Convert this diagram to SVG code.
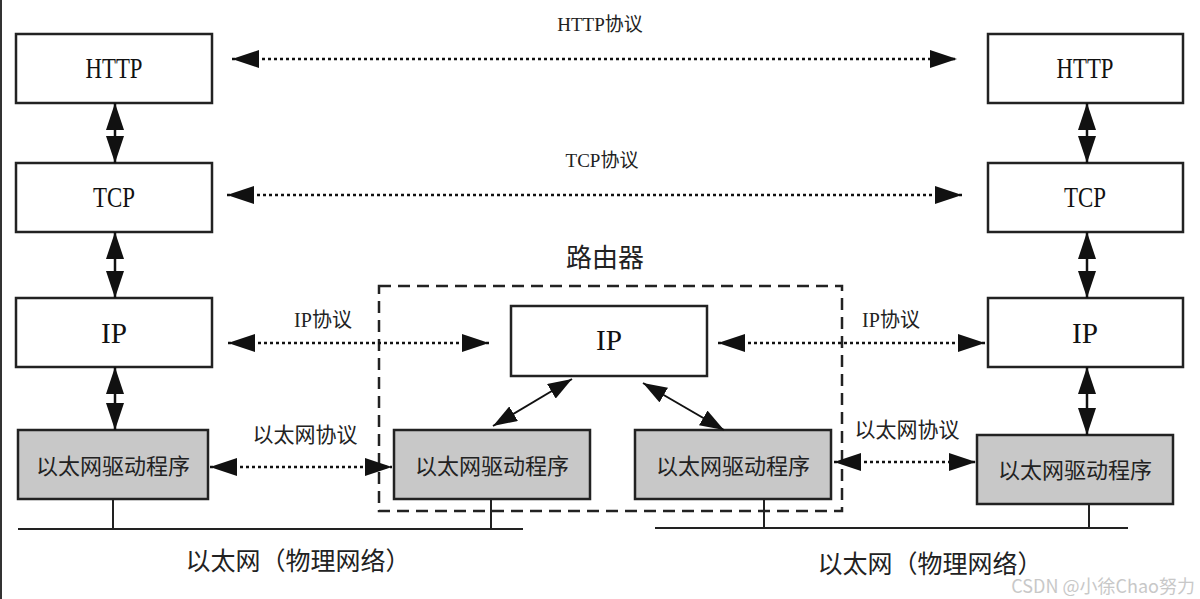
<svg xmlns="http://www.w3.org/2000/svg" width="1200" height="599" viewBox="0 0 1200 599">
<style>
.box{fill:#fff;stroke:#222;stroke-width:2.5}
.gbox{fill:#c8c8c8;stroke:#222;stroke-width:2.5}
.lat{font-family:"Liberation Serif","Noto Sans CJK SC",serif;font-size:30px;fill:#111;text-anchor:middle}
.cjk{font-family:"Noto Sans CJK SC",sans-serif;font-size:22px;fill:#222;text-anchor:middle}
.lbl{font-family:"Liberation Serif","Noto Sans CJK SC",serif;font-size:20px;fill:#222;text-anchor:middle}
.solid{stroke:#111;stroke-width:2.5;fill:none;marker-start:url(#ah);marker-end:url(#ah)}
.thin{stroke:#111;stroke-width:2;fill:none;marker-start:url(#as);marker-end:url(#as)}
.dot{stroke:#111;stroke-width:2.5;stroke-dasharray:3 3;fill:none;marker-start:url(#ah);marker-end:url(#ah)}
.wire{stroke:#222;stroke-width:2;fill:none}
</style>
<defs>
<marker id="ah" markerUnits="userSpaceOnUse" markerWidth="27" markerHeight="18" refX="27" refY="9" orient="auto-start-reverse"><path d="M0,0 L27,9 L0,18 z" fill="#111"/></marker>
<marker id="as" markerUnits="userSpaceOnUse" markerWidth="24" markerHeight="17" refX="24" refY="8.5" orient="auto-start-reverse"><path d="M0,0 L24,8.5 L0,17 z" fill="#111"/></marker>
</defs>
<rect width="1200" height="599" fill="#fff"/>
<line x1="1" y1="0" x2="1" y2="599" stroke="#333" stroke-width="2"/>

<g id="router-frame">
<rect x="379" y="286" width="463" height="225" fill="none" stroke="#222" stroke-width="2.5" stroke-dasharray="12 7"/>
<text x="605" y="267" class="cjk" style="font-size:26px">路由器</text>
</g>

<g id="wires">
<line class="wire" x1="18" y1="529" x2="523" y2="529"/>
<line class="wire" x1="655" y1="528" x2="1128" y2="528"/>
<line class="wire" x1="113" y1="499" x2="113" y2="529"/>
<line class="wire" x1="491" y1="499" x2="491" y2="529"/>
<line class="wire" x1="764" y1="499" x2="764" y2="528"/>
<line class="wire" x1="1089" y1="504" x2="1089" y2="528"/>
</g>

<g id="left-http"><rect class="box" x="16" y="34" width="196" height="69"/><text class="lat" x="114" y="78" textLength="57" lengthAdjust="spacingAndGlyphs">HTTP</text></g>
<g id="left-tcp"><rect class="box" x="16" y="163" width="196" height="69"/><text class="lat" x="114" y="207" textLength="42" lengthAdjust="spacingAndGlyphs">TCP</text></g>
<g id="left-ip"><rect class="box" x="16" y="298" width="196" height="69"/><text class="lat" x="114" y="343" textLength="26" lengthAdjust="spacingAndGlyphs">IP</text></g>
<g id="left-eth"><rect class="gbox" x="18" y="430" width="190" height="69"/><text class="cjk" x="113" y="474">以太网驱动程序</text></g>

<g id="router-ip"><rect class="box" x="511" y="306" width="196" height="70"/><text class="lat" x="609" y="350" textLength="26" lengthAdjust="spacingAndGlyphs">IP</text></g>
<g id="router-eth-left"><rect class="gbox" x="394" y="430" width="196" height="69"/><text class="cjk" x="492" y="474">以太网驱动程序</text></g>
<g id="router-eth-right"><rect class="gbox" x="635" y="430" width="196" height="69"/><text class="cjk" x="733" y="474">以太网驱动程序</text></g>

<g id="right-http"><rect class="box" x="988" y="34" width="195" height="69"/><text class="lat" x="1085" y="78" textLength="57" lengthAdjust="spacingAndGlyphs">HTTP</text></g>
<g id="right-tcp"><rect class="box" x="988" y="163" width="195" height="69"/><text class="lat" x="1085" y="207" textLength="42" lengthAdjust="spacingAndGlyphs">TCP</text></g>
<g id="right-ip"><rect class="box" x="988" y="298" width="195" height="69"/><text class="lat" x="1085" y="343" textLength="26" lengthAdjust="spacingAndGlyphs">IP</text></g>
<g id="right-eth"><rect class="gbox" x="977" y="435" width="196" height="69"/><text class="cjk" x="1075" y="478">以太网驱动程序</text></g>

<g id="connectors">
<line class="solid" x1="115" y1="103" x2="115" y2="163"/>
<line class="solid" x1="115" y1="232" x2="115" y2="298"/>
<line class="solid" x1="115" y1="367" x2="115" y2="430"/>
<line class="solid" x1="1087" y1="103" x2="1087" y2="163"/>
<line class="solid" x1="1087" y1="232" x2="1087" y2="298"/>
<line class="solid" x1="1087" y1="367" x2="1087" y2="435"/>
<line class="dot" x1="232" y1="59" x2="957" y2="59"/>
<line class="dot" x1="227" y1="195" x2="962" y2="195"/>
<line class="dot" x1="228" y1="343" x2="489" y2="343"/>
<line class="dot" x1="718" y1="343" x2="985" y2="343"/>
<line class="dot" x1="210" y1="467" x2="392" y2="467"/>
<line class="dot" x1="834" y1="462" x2="976" y2="462"/>
<line class="thin" x1="572" y1="379" x2="493" y2="426"/>
<line class="thin" x1="643" y1="383" x2="724" y2="430"/>
</g>

<g id="labels">
<text class="lbl" x="600" y="31" style="font-size:19px">HTTP协议</text>
<text class="lbl" x="602" y="167" style="font-size:19px">TCP协议</text>
<text class="lbl" x="323" y="327">IP协议</text>
<text class="lbl" x="891" y="327">IP协议</text>
<text class="cjk" x="305" y="442" style="font-size:21px">以太网协议</text>
<text class="cjk" x="907" y="437" style="font-size:21px">以太网协议</text>
<text class="cjk" x="298" y="570" style="font-size:25px">以太网（物理网络）</text>
<text class="cjk" x="930" y="573" style="font-size:25px">以太网（物理网络）</text>
<text x="1195" y="593" style="font-family:'Noto Sans CJK SC',sans-serif;font-size:18px;fill:#bbb;opacity:0.8;text-anchor:end">CSDN @小徐Chao努力</text>
</g>
</svg>
